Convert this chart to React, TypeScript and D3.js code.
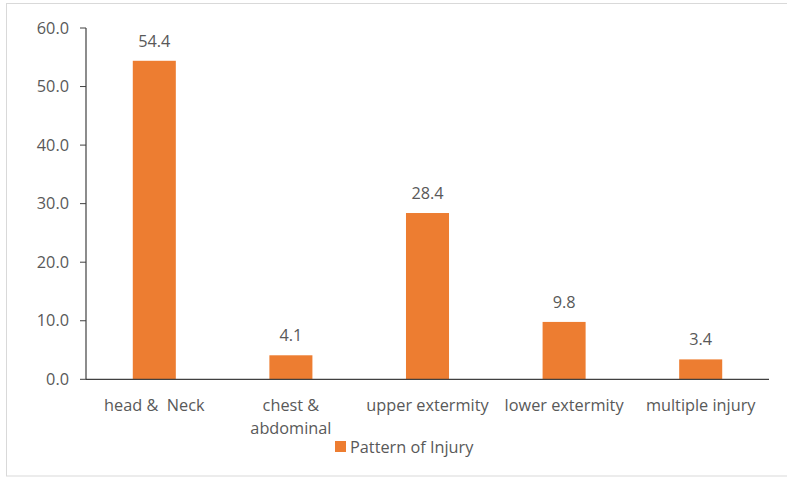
import React from "react";
import * as d3 from "d3";

const categories: string[][] = [["head &  Neck"], ["chest &", "abdominal"], ["upper extermity"], ["lower extermity"], ["multiple injury"]];
const values: number[] = [54.4, 4.1, 28.4, 9.8, 3.4];
const yTicks: number[] = [0, 10, 20, 30, 40, 50, 60];
const seriesName = "Pattern of Injury";

const W = 787, H = 477;
const left = 86, right = 769, top = 28, bottom = 379.3;
const FONT = "'Open Sans', 'Liberation Sans', sans-serif";
const TXT = "#595959";
const ORANGE = "#ED7D31";
const FS = 16.3;

export default function App() {
  const x = d3.scaleBand<number>().domain(d3.range(values.length)).range([left, right]).paddingInner(0.685).paddingOuter(0.3425);
  const y = d3.scaleLinear().domain([0, 60]).range([bottom, top]);
  return (
    <svg width={W} height={H} style={{ position: "absolute", left: 0, top: 0, background: "#fff" }} fontFamily={FONT}>
      <rect x={6.5} y={3.5} width={820} height={472.5} fill="#fff" stroke="#d9d9d9" strokeWidth={1} />
      {yTicks.map((t) => (
        <g key={t}>
          <line x1={left - 6} x2={left} y1={y(t)} y2={y(t)} stroke="#404040" strokeWidth={1} />
          <text x={left - 17} y={y(t)} dy="0.35em" textAnchor="end" fontSize={FS} fill={TXT}>{t.toFixed(1)}</text>
        </g>
      ))}
      {values.map((v, i) => (
        <g key={i}>
          <rect x={x(i)} y={y(v)} width={x.bandwidth()} height={y(0) - y(v)} fill={ORANGE} />
          <text x={(x(i) as number) + x.bandwidth() / 2} y={y(v) - 14} textAnchor="middle" fontSize={FS} fill={TXT}>{v.toFixed(1)}</text>
          {categories[i].map((line, j) => (
            <text key={j} x={(x(i) as number) + x.bandwidth() / 2} y={411 + j * 22.5} textAnchor="middle" fontSize={FS} fill={TXT} style={{ whiteSpace: "pre" }}>{line}</text>
          ))}
        </g>
      ))}
      <line x1={left} x2={left} y1={top} y2={bottom} stroke="#404040" strokeWidth={1.2} />
      <line x1={left} x2={right} y1={bottom} y2={bottom} stroke="#404040" strokeWidth={1.2} />
      <rect x={335} y={441} width={11} height={11} fill={ORANGE} />
      <text x={350} y={452.5} fontSize={FS} fill={TXT}>{seriesName}</text>
    </svg>
  );
}
